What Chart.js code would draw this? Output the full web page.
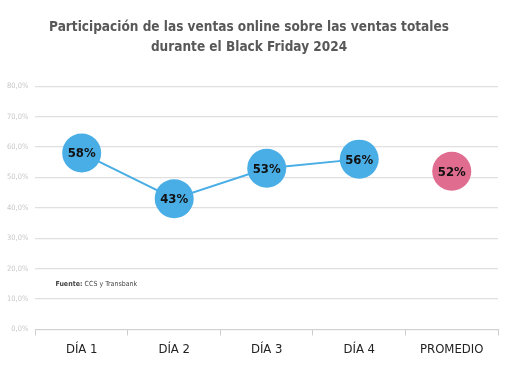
<!DOCTYPE html>
<html>
<head>
<meta charset="utf-8">
<script src="https://cdn.jsdelivr.net/npm/chart.js@4/dist/chart.umd.min.js"></script>
<style>
  html, body { margin: 0; padding: 0; background: #fff; }
</style>
</head>
<body>
<canvas id="chart" width="531" height="380"></canvas>
<script>
const categories = ["DÍA 1", "DÍA 2", "DÍA 3", "DÍA 4", "PROMEDIO"];
const dailyShare = [58, 43, 53, 56, null];
const averageShare = [null, null, null, null, 52];
const yTicks = [0, 10, 20, 30, 40, 50, 60, 70, 80];

const FONT = "'Liberation Sans Narrow', 'DejaVu Sans Condensed', sans-serif";

// draws the % inside each bubble and the source note
const labelsPlugin = {
  id: "bubbleLabels",
  afterDatasetsDraw(chart) {
    const ctx = chart.ctx;
    ctx.save();
    ctx.textAlign = "center";
    ctx.textBaseline = "middle";
    ctx.fillStyle = "#111";
    ctx.font = "bold 13px " + FONT;
    chart.data.datasets.forEach((ds, i) => {
      chart.getDatasetMeta(i).data.forEach((pt, j) => {
        if (ds.data[j] == null) return;
        ctx.fillText(ds.data[j] + "%", pt.x, pt.y + 1);
      });
    });

    const y = chart.scales.y.getPixelForValue(15);
    const x = chart.chartArea.left + 20;
    ctx.textAlign = "left";
    ctx.fillStyle = "#444";
    ctx.font = "bold 7px " + FONT;
    ctx.fillText("Fuente:", x, y);
    const w = ctx.measureText("Fuente: ").width;
    ctx.font = "7px " + FONT;
    ctx.fillText("CCS y Transbank", x + w, y);
    ctx.restore();
  }
};

new Chart(document.getElementById("chart"), {
  type: "line",
  data: {
    labels: categories,
    datasets: [
      {
        label: "Día",
        data: dailyShare,
        borderColor: "#4AAEE6",
        borderWidth: 2,
        backgroundColor: "#4AAEE6",
        pointBackgroundColor: "#4AAEE6",
        pointBorderWidth: 0,
        pointRadius: 19.5,
        pointHoverRadius: 19.5,
        spanGaps: false
      },
      {
        label: "Promedio",
        data: averageShare,
        showLine: false,
        backgroundColor: "#E06C8F",
        pointBackgroundColor: "#E06C8F",
        pointBorderWidth: 0,
        pointRadius: 19.5,
        pointHoverRadius: 19.5
      }
    ]
  },
  options: {
    responsive: false,
    animation: false,
    layout: { padding: { left: 0, right: 33, top: 0, bottom: 17 } },
    plugins: {
      legend: { display: false },
      tooltip: { enabled: false },
      title: {
        display: true,
        text: ["Participación de las ventas online sobre las ventas totales", "durante el Black Friday 2024"],
        color: "#585858",
        font: { family: FONT, size: 13.5, weight: "bold", lineHeight: 1.45 },
        padding: { top: 18, bottom: 29 }
      }
    },
    scales: {
      x: {
        offset: true,
        grid: { display: true, drawOnChartArea: false, drawTicks: true, tickLength: 6, color: "#ccc", offset: true },
        border: { display: true, color: "#d0d0d0" },
        ticks: { color: "#222", font: { family: FONT, size: 13 }, padding: 6, maxRotation: 0 }
      },
      y: {
        min: 0,
        max: 80,
        afterBuildTicks(axis) { axis.ticks = yTicks.map(v => ({ value: v })); },
        grid: { color: "#e0e0e0", lineWidth: 1.2, drawTicks: false },
        border: { display: false },
        ticks: {
          color: "#c8c8c8",
          font: { family: FONT, size: 7.5 },
          padding: 7,
          callback: v => v.toFixed(1).replace(".", ",") + "%"
        }
      }
    }
  },
  plugins: [labelsPlugin]
});
</script>
</body>
</html>
